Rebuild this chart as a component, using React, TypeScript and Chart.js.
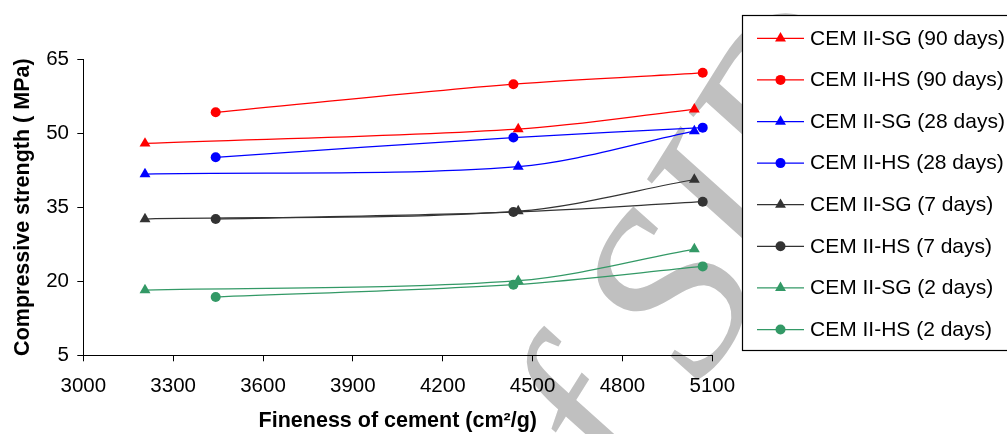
import React, { useEffect, useRef } from 'react';
import { Chart, registerables } from 'chart.js';

Chart.register(...registerables);

// Fineness of cement (cm²/g) for each cement type
const sgFineness = [3206, 4452, 5040];
const hsFineness = [3442, 4436, 5068];

// Compressive strength (MPa)
const sg90 = [47.9, 50.8, 54.8];
const hs90 = [54.2, 59.9, 62.2];
const sg28 = [41.7, 43.2, 50.4];
const hs28 = [45.1, 49.1, 51.1];
const sg7 = [32.6, 34.2, 40.6];
const hs7 = [32.6, 34.0, 36.1];
const sg2 = [18.2, 20.1, 26.5];
const hs2 = [16.8, 19.3, 23.0];

const seriesLabels = [
  'CEM II-SG (90 days)',
  'CEM II-HS (90 days)',
  'CEM II-SG (28 days)',
  'CEM II-HS (28 days)',
  'CEM II-SG (7 days)',
  'CEM II-HS (7 days)',
  'CEM II-SG (2 days)',
  'CEM II-HS (2 days)',
];

const xTicks = [3000, 3300, 3600, 3900, 4200, 4500, 4800, 5100];
const yTicks = [5, 20, 35, 50, 65];

const xTitle = 'Fineness of cement (cm²/g)';
const yTitle = 'Compressive strength ( MPa)';
const watermarkText = 'of SID';

const FONT = '"Liberation Sans", Arial, sans-serif';

const RED = '#FF0000';
const BLUE = '#0000FF';
const DARK = '#333333';
const GREEN = '#339966';

function pts(xs: number[], ys: number[]) {
  return xs.map((x, i) => ({ x, y: ys[i] }));
}

function drawMarker(ctx: CanvasRenderingContext2D, style: string, x: number, y: number, color: string) {
  ctx.save();
  ctx.fillStyle = color;
  ctx.beginPath();
  if (style === 'triangle') {
    const r = 6.3;
    let rad = 0;
    ctx.moveTo(x + Math.sin(rad) * r, y - Math.cos(rad) * r);
    rad += (2 * Math.PI) / 3;
    ctx.lineTo(x + Math.sin(rad) * r, y - Math.cos(rad) * r);
    rad += (2 * Math.PI) / 3;
    ctx.lineTo(x + Math.sin(rad) * r, y - Math.cos(rad) * r);
    ctx.closePath();
  } else {
    ctx.arc(x, y, 5.0, 0, Math.PI * 2);
  }
  ctx.fill();
  ctx.restore();
}

const watermarkPlugin = {
  id: 'watermark',
  beforeDraw(chart: any) {
    const ctx = chart.ctx as CanvasRenderingContext2D;
    ctx.save();
    ctx.fillStyle = '#C0C0C0';
    ctx.font = 'italic 240px "Liberation Serif", "Times New Roman", serif';
    ctx.translate(572, 596);
    ctx.rotate((-58 * Math.PI) / 180);
    ctx.textBaseline = 'alphabetic';
    ctx.textAlign = 'left';
    ctx.fillText(watermarkText, 0, 0);
    ctx.restore();
  },
};

const legendPlugin = {
  id: 'boxLegend',
  afterDraw(chart: any) {
    const ctx = chart.ctx as CanvasRenderingContext2D;
    const left = 742.5;
    const top = 15.5;
    const bottom = 350.5;
    ctx.save();
    ctx.fillStyle = '#FFFFFF';
    ctx.fillRect(left, top, 300, bottom - top);
    ctx.strokeStyle = '#000000';
    ctx.lineWidth = 1.2;
    ctx.strokeRect(left, top, 300, bottom - top);
    const datasets = chart.data.datasets;
    const rowTop = 38.3;
    const rowGap = 41.6;
    datasets.forEach((ds: any, i: number) => {
      const y = rowTop + i * rowGap;
      ctx.strokeStyle = ds.borderColor;
      ctx.lineWidth = 1.25;
      ctx.beginPath();
      ctx.moveTo(757, y);
      ctx.lineTo(804, y);
      ctx.stroke();
      drawMarker(ctx, ds.pointStyle, 780.5, y, ds.pointBackgroundColor);
      ctx.fillStyle = '#000000';
      ctx.font = '21px ' + FONT;
      ctx.textBaseline = 'middle';
      ctx.textAlign = 'left';
      ctx.fillText(ds.label, 810, y + 0.5);
    });
    ctx.restore();
  },
};

export default function App() {
  const canvasRef = useRef<HTMLCanvasElement | null>(null);

  useEffect(() => {
    document.body.style.margin = '0';
    const canvas = canvasRef.current;
    if (!canvas) return;

    const seriesData = [
      pts(sgFineness, sg90),
      pts(hsFineness, hs90),
      pts(sgFineness, sg28),
      pts(hsFineness, hs28),
      pts(sgFineness, sg7),
      pts(hsFineness, hs7),
      pts(sgFineness, sg2),
      pts(hsFineness, hs2),
    ];
    const colors = [RED, RED, BLUE, BLUE, DARK, DARK, GREEN, GREEN];

    const datasets = seriesData.map((data, i) => {
      const tri = i % 2 === 0;
      return {
        label: seriesLabels[i],
        data,
        borderColor: colors[i],
        backgroundColor: colors[i],
        pointBackgroundColor: colors[i],
        pointBorderColor: colors[i],
        pointBorderWidth: 0,
        pointStyle: tri ? 'triangle' : 'circle',
        pointRadius: tri ? 6.3 : 5.0,
        borderWidth: 1.25,
        tension: 0.32,
        fill: false,
      };
    });

    const chart = new Chart(canvas, {
      type: 'line',
      data: { datasets },
      plugins: [watermarkPlugin, legendPlugin],
      options: {
        animation: false,
        responsive: false,
        devicePixelRatio: 1,
        events: [],
        layout: { padding: { left: 0, top: 59, right: 294.7, bottom: 0 } },
        plugins: {
          legend: { display: false },
          tooltip: { enabled: false },
          title: { display: false },
        },
        scales: {
          x: {
            type: 'linear',
            min: 3000,
            max: 5100,
            afterBuildTicks: (scale: any) => {
              scale.ticks = xTicks.map((v) => ({ value: v }));
            },
            afterFit: (scale: any) => {
              scale.height = 78.7;
            },
            grid: {
              drawOnChartArea: false,
              drawTicks: true,
              tickLength: 6,
              color: '#000000',
              tickColor: '#000000',
            },
            border: { display: true, color: '#000000', width: 1 },
            ticks: {
              color: '#000000',
              font: { family: FONT, size: 20.5 },
              padding: 12.5,
              maxRotation: 0,
              autoSkip: false,
              callback: (v: any) => String(v),
            },
            title: {
              display: true,
              text: xTitle,
              color: '#000000',
              font: { family: FONT, size: 21.5, weight: 'bold' },
              padding: { top: 0, bottom: 0 },
            },
          },
          y: {
            type: 'linear',
            min: 5,
            max: 65,
            afterBuildTicks: (scale: any) => {
              scale.ticks = yTicks.map((v) => ({ value: v }));
            },
            afterFit: (scale: any) => {
              scale.width = 83.3;
            },
            grid: {
              drawOnChartArea: false,
              drawTicks: true,
              tickLength: 6,
              color: '#000000',
              tickColor: '#000000',
            },
            border: { display: true, color: '#000000', width: 1 },
            ticks: {
              color: '#000000',
              font: { family: FONT, size: 20.5 },
              padding: 8.3,
              autoSkip: false,
              callback: (v: any) => String(v),
            },
            title: {
              display: true,
              text: yTitle,
              color: '#000000',
              font: { family: FONT, size: 21.5, weight: 'bold' },
              padding: { top: 10, bottom: 0 },
            },
          },
        },
      } as any,
    });

    return () => {
      chart.destroy();
    };
  }, []);

  return (
    <div style={{ position: 'fixed', left: 0, top: 0, width: 1007, height: 434, background: '#FFFFFF' }}>
      <canvas ref={canvasRef} width={1007} height={434} style={{ display: 'block' }} />
    </div>
  );
}
